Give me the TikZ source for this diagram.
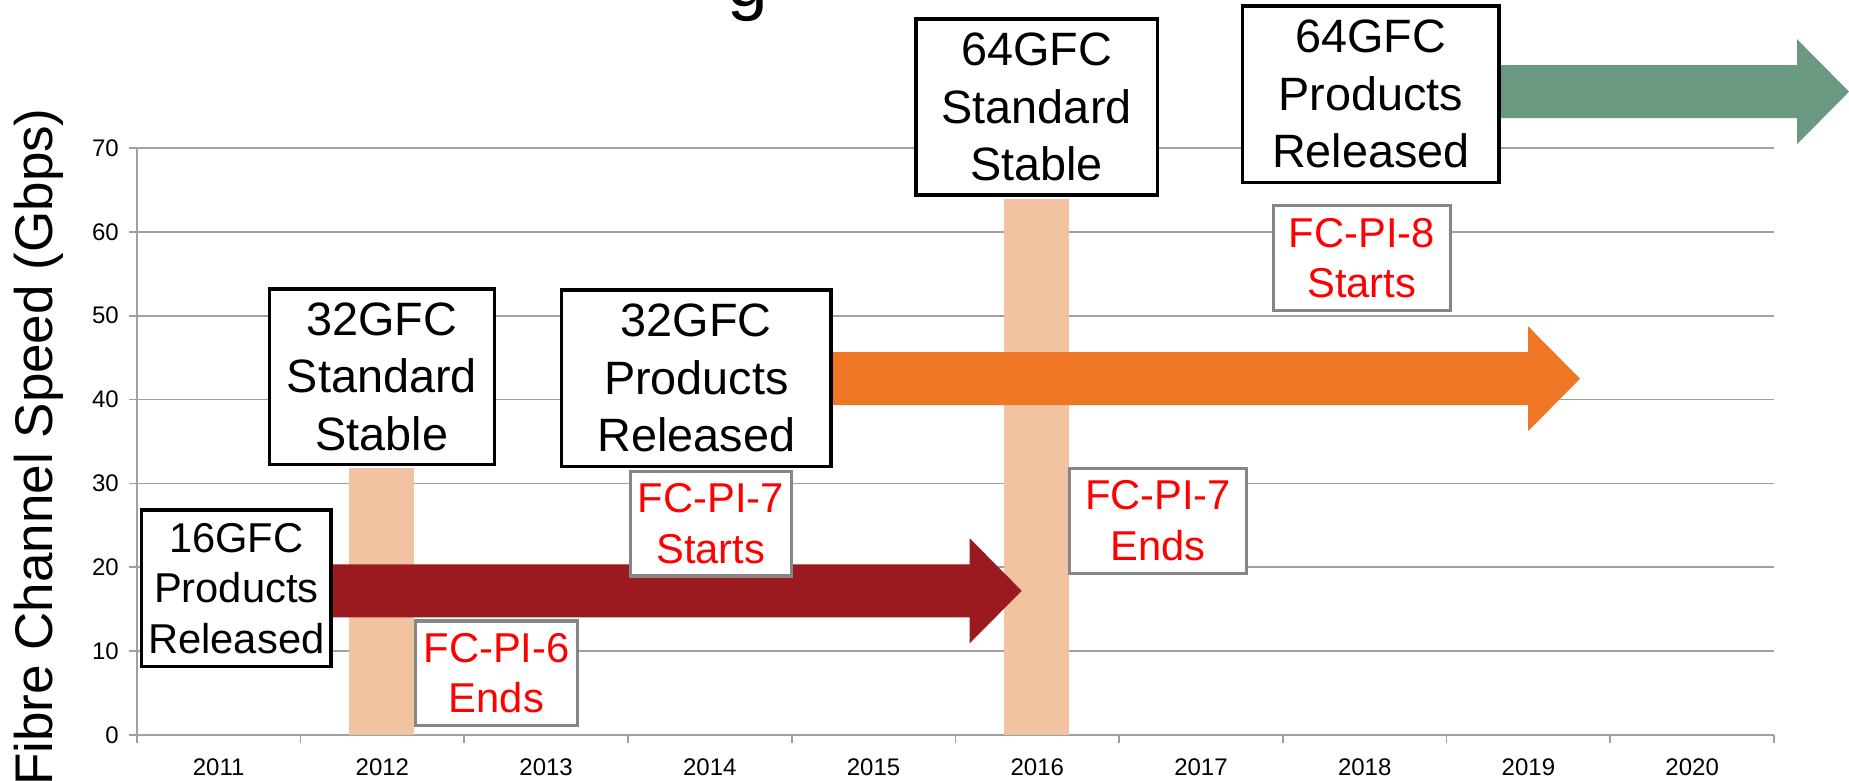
\documentclass[tikz,border=0pt]{standalone}
\usepackage{fontspec}
\setmainfont{Liberation Sans}
\usetikzlibrary{calc}

\definecolor{gridgray}{HTML}{A0A0A0}
\definecolor{framegray}{HTML}{868686}
\definecolor{peach}{HTML}{F1C3A0}
\definecolor{wine}{HTML}{9A1A20}
\definecolor{tangerine}{HTML}{EE7624}
\definecolor{sage}{HTML}{6B9881}
\definecolor{alertred}{HTML}{FF0000}

\newcommand\boxfont{\fontsize{46.8}{57.5}\selectfont}
\newcommand\tightfont{\fontsize{41.7}{50.5}\selectfont}

% block arrow from a start point (left end of the shaft centre) to a tip
\newcommand\blockarrow[3]{%
  \fill[#1] ($(#2)+(0,-26.5)$) -- ($(#3)+(-52,-26.5)$) -- ($(#3)+(-52,-52.5)$)
    -- (#3) -- ($(#3)+(-52,52.5)$) -- ($(#3)+(-52,26.5)$) -- ($(#2)+(0,26.5)$) -- cycle;}

\pgfdeclarelayer{back}
\pgfdeclarelayer{mid}
\pgfsetlayers{back,mid,main}

\begin{document}
\begin{tikzpicture}[x=1pt,y=-1pt,
  milestone/.style={draw=black, line width=3.3pt, fill=white, inner sep=0pt,
    align=center, text=black, font=\boxfont},
  spec/.style={draw=framegray, line width=3.3pt, fill=white, inner sep=0pt,
    align=center, text=alertred, font=\tightfont},
  grid line/.style={draw=gridgray, line width=1.8pt},
  axis label/.style={font=\fontsize{24}{28}\selectfont, inner sep=0pt},
  window/.style={fill=peach},
]
\useasboundingbox (0,0) rectangle (1849,781);
\clip (0,0) rectangle (1849,781);

% milestone boxes
\node[milestone, font=\tightfont, minimum width=189.3pt, minimum height=156.7pt]
  (b16) at (236.35,588.35) {16GFC\\Products\\Released};
\node[milestone, minimum width=225pt, minimum height=175.3pt]
  (b32s) at (381.8,376.65) {32GFC\\Standard\\Stable};
\node[milestone, minimum width=269.3pt, minimum height=176.7pt]
  (b32p) at (696.35,378.35) {32GFC\\Products\\Released};
\node[milestone, minimum width=241.3pt, minimum height=176pt]
  (b64s) at (1036.65,107) {64GFC\\Standard\\Stable};
\node[milestone, minimum width=256.3pt, minimum height=176.3pt]
  (b64p) at (1370.85,94.15) {64GFC\\Products\\Released};

% specification boxes
\node[spec, minimum width=161.6pt, minimum height=104.7pt]
  (pi6e) at (496.5,673.35) {FC-PI-6\\Ends};
\node[spec, minimum width=161pt, minimum height=104.7pt]
  (pi7s) at (710.8,523.65) {FC-PI-7\\Starts};
\node[spec, minimum width=176.8pt, minimum height=105pt]
  (pi7e) at (1158,520.8) {FC-PI-7\\Ends};
\node[spec, minimum width=177pt, minimum height=104.8pt]
  (pi8s) at (1361.8,258.1) {FC-PI-8\\Starts};

% chart frame
\coordinate (origin) at (136.8,735);
\begin{pgfonlayer}{back}
  \fill[white] (0,0) rectangle (1849,781);
  \foreach \v in {1,...,7}
    \draw[grid line] (136.8,735-\v*83.857) -- (1774,735-\v*83.857);
  \draw[grid line] (origin) -- (1774,735);
  \draw[grid line] (origin) -- (136.8,148);
  \foreach \i in {0,...,10}
    \draw[grid line] (136.8+\i*163.72,735) -- ++(0,8);
  \foreach \v in {0,...,7}
    \draw[grid line] (136.8,735-\v*83.857) -- ++(-7.6,0);
  % standard-stable windows below their boxes
  \fill[window] ($(b32s.south)+(-32.65,2)$) rectangle ($(b32s.south |- origin)+(32.65,0)$);
  \fill[window] ($(b64s.south)+(-32.65,2)$) rectangle ($(b64s.south |- origin)+(32.65,0)$);
\end{pgfonlayer}

% product arrows
\coordinate (tipA) at (1021.7,590.8);
\coordinate (tipB) at (1580,378.7);
\coordinate (tipC) at (1849,91.7);
\coordinate (startA) at (b16.east |- tipA);
\coordinate (startB) at (b32p.east |- tipB);
\coordinate (startC) at (b64p.east |- tipC);
\begin{pgfonlayer}{mid}
  \blockarrow{wine}{startA}{tipA}
  \blockarrow{tangerine}{startB}{tipB}
  \blockarrow{sage}{startC}{tipC}
\end{pgfonlayer}

% axis labels
\foreach \v in {0,...,7}
  \node[axis label, anchor=east] (ylab\v) at (119,735-\v*83.857) {\the\numexpr\v*10\relax};
\foreach \i in {0,...,9}
  \node[axis label, anchor=base] (year\i) at ({136.8+(\i+0.5)*163.72},775) {\the\numexpr2011+\i\relax};
\node[rotate=90, anchor=base west, inner sep=0pt, font=\fontsize{53}{60}\selectfont]
  (ytitle) at (52,786) {Fibre Channel Speed (Gbps)};

% title text running above the top edge
\node[anchor=base west, inner sep=0pt, font=\fontsize{73}{80}\selectfont]
  (title) at (727,7) {g};
\end{tikzpicture}
\end{document}
